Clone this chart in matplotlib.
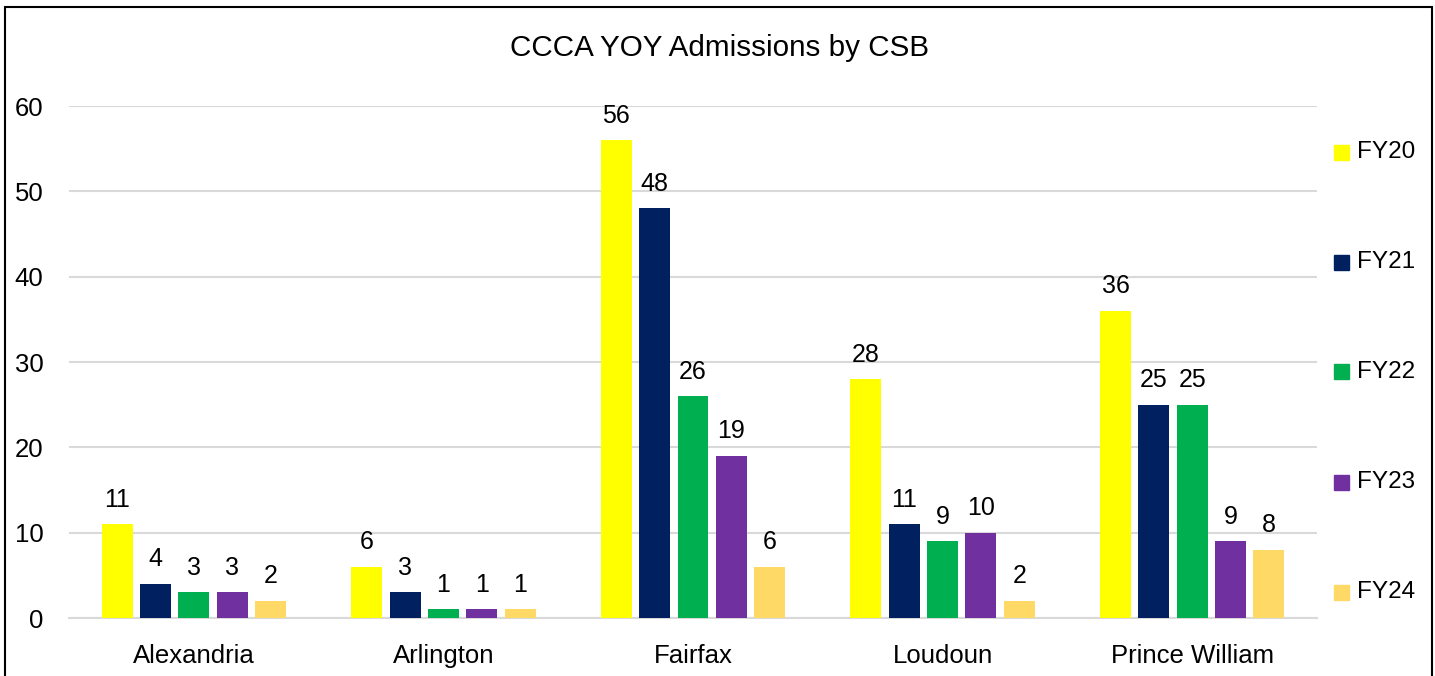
import numpy as np
import matplotlib.pyplot as plt
from matplotlib.patches import Rectangle

# Data
categories = ['Alexandria', 'Arlington', 'Fairfax', 'Loudoun', 'Prince William']
series = ['FY20', 'FY21', 'FY22', 'FY23', 'FY24']
fy20 = [11, 6, 56, 28, 36]
fy21 = [4, 3, 48, 11, 25]
fy22 = [3, 1, 26, 9, 25]
fy23 = [3, 1, 19, 10, 9]
fy24 = [2, 1, 6, 2, 8]
values = [fy20, fy21, fy22, fy23, fy24]
colors = ['#FFFF00', '#002060', '#00B050', '#7030A0', '#FFD966']
yticks = [0, 10, 20, 30, 40, 50, 60]

plt.rcParams['font.family'] = ['Liberation Sans', 'DejaVu Sans']

W, H = 1435, 676
fig = plt.figure(figsize=(W / 100, H / 100), dpi=100)
ax = fig.add_axes([69 / W, 1 - 618 / H, 1248 / W, 512 / H])

x = np.arange(len(categories))
step = 0.1535
width = 0.124
for i, (name, vals, c) in enumerate(zip(series, values, colors)):
    bars = ax.bar(x + (i - 2) * step, vals, width, color=c, label=name, zorder=3)
    ax.bar_label(bars, padding=9, fontsize=18, color='#000000')

ax.set_xlim(-0.5, len(categories) - 0.5)
ax.set_ylim(0, 60)
ax.set_yticks(yticks)
ax.set_xticks(x)
ax.set_xticklabels(categories)
ax.tick_params(axis='both', length=0, labelsize=18.5, colors='#000000')
ax.tick_params(axis='y', pad=18.5)
ax.tick_params(axis='x', pad=19)
ax.grid(axis='y', color='#D9D9D9', linewidth=1.5, zorder=0)
for s in ['top', 'right', 'left']:
    ax.spines[s].set_visible(False)
ax.spines['bottom'].set_color('#D9D9D9')
ax.spines['bottom'].set_linewidth(1.5)

fig.text(720 / W, 1 - 48 / H, 'CCCA YOY Admissions by CSB', ha='center', va='center',
         fontsize=21.3, color='#000000')

# legend entries down the right side
for i, (name, c) in enumerate(zip(series, colors)):
    yc = 152 + 110 * i
    fig.add_artist(Rectangle((1334 / W, 1 - (yc + 7.5) / H), 15 / W, 15 / H,
                             transform=fig.transFigure, color=c))
    fig.text(1357 / W, 1 - yc / H, name, ha='left', va='center', fontsize=17.5)

# outer frame (bottom edge falls outside the image)
fig.add_artist(Rectangle((5 / W, -0.02), 1427 / W, 1.02 - 7 / H, transform=fig.transFigure,
                         fill=False, edgecolor='#000000', linewidth=1.5))

fig.savefig('out.png', dpi=100)
